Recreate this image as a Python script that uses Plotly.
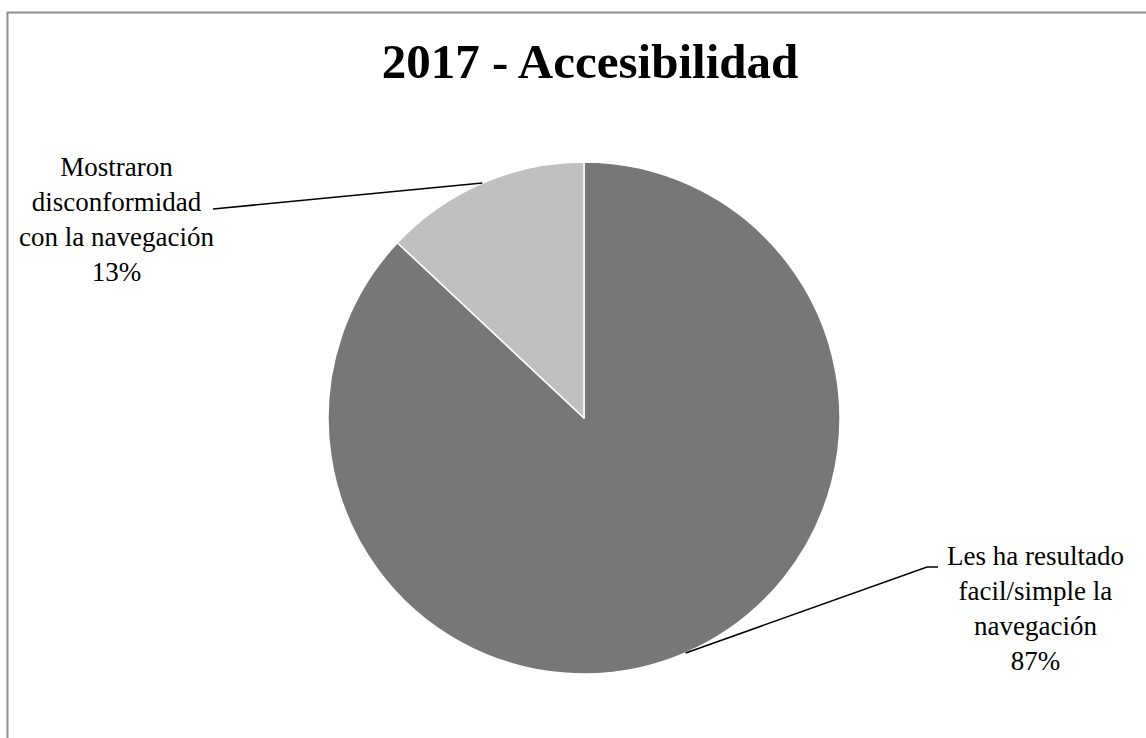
import math
import plotly.graph_objects as go

# Survey answers about site navigation (2017)
categories = [
    "Les ha resultado facil/simple la navegación",
    "Mostraron disconformidad con la navegación",
]
label_lines = [
    ["Les ha resultado", "facil/simple la", "navegación"],
    ["Mostraron", "disconformidad", "con la navegación"],
]
values = [87, 13]
colors = ["#777777", "#c0c0c0"]

W, H = 1146, 738
CX, CY, R = 584, 418, 256  # pie centre and radius in pixels

# Label block centres and leader-line elbows (pixels)
label_pos = [(1035, 608), (116, 219)]
elbows = [[(927, 567), (938, 567)], [(213, 209)]]


def px(x):
    return x / W


def py(y):
    return 1 - y / H


fig = go.Figure(
    go.Pie(
        labels=categories,
        values=values,
        sort=False,
        direction="clockwise",
        rotation=0,
        textinfo="none",
        hoverinfo="label+percent",
        marker=dict(colors=colors, line=dict(color="#ffffff", width=1.5)),
        domain=dict(x=[px(CX - R), px(CX + R)], y=[py(CY + R), py(CY - R)]),
        showlegend=False,
    )
)

total = sum(values)
shapes = []
annotations = []
cum = 0
for i, v in enumerate(values):
    mid = (cum + v / 2) / total * 2 * math.pi  # clockwise from 12 o'clock
    cum += v
    ex = CX + R * math.sin(mid)
    ey = CY - R * math.cos(mid)
    pts = [(ex, ey)] + elbows[i]
    path = "M " + " L ".join(f"{px(x)},{py(y)}" for x, y in pts)
    shapes.append(dict(type="path", xref="paper", yref="paper", path=path,
                       line=dict(color="#000000", width=1.6)))
    pct = round(v / total * 100)
    text = "<br>".join(label_lines[i] + [f"{pct}%"])
    lx, ly = label_pos[i]
    annotations.append(dict(
        x=px(lx), y=py(ly), xref="paper", yref="paper", text=text,
        showarrow=False, xanchor="center", yanchor="middle", align="center",
        font=dict(family="Liberation Serif", size=27, color="#000000"),
    ))

# Chart frame
shapes.append(dict(type="line", xref="paper", yref="paper",
                   x0=px(7), y0=py(12.5), x1=1.0, y1=py(12.5),
                   line=dict(color="#8e8e8e", width=2)))
shapes.append(dict(type="line", xref="paper", yref="paper",
                   x0=px(7.5), y0=py(12), x1=px(7.5), y1=0.0,
                   line=dict(color="#8e8e8e", width=2)))

fig.update_layout(
    width=W,
    height=H,
    margin=dict(l=0, r=0, t=0, b=0),
    paper_bgcolor="#ffffff",
    plot_bgcolor="#ffffff",
    title=dict(
        text="<b>2017 - Accesibilidad</b>",
        x=px(590), xanchor="center",
        y=py(61), yanchor="middle", yref="container",
        font=dict(family="Liberation Serif", size=49, color="#000000"),
    ),
    shapes=shapes,
    annotations=annotations,
)

fig.write_html("out.html")
